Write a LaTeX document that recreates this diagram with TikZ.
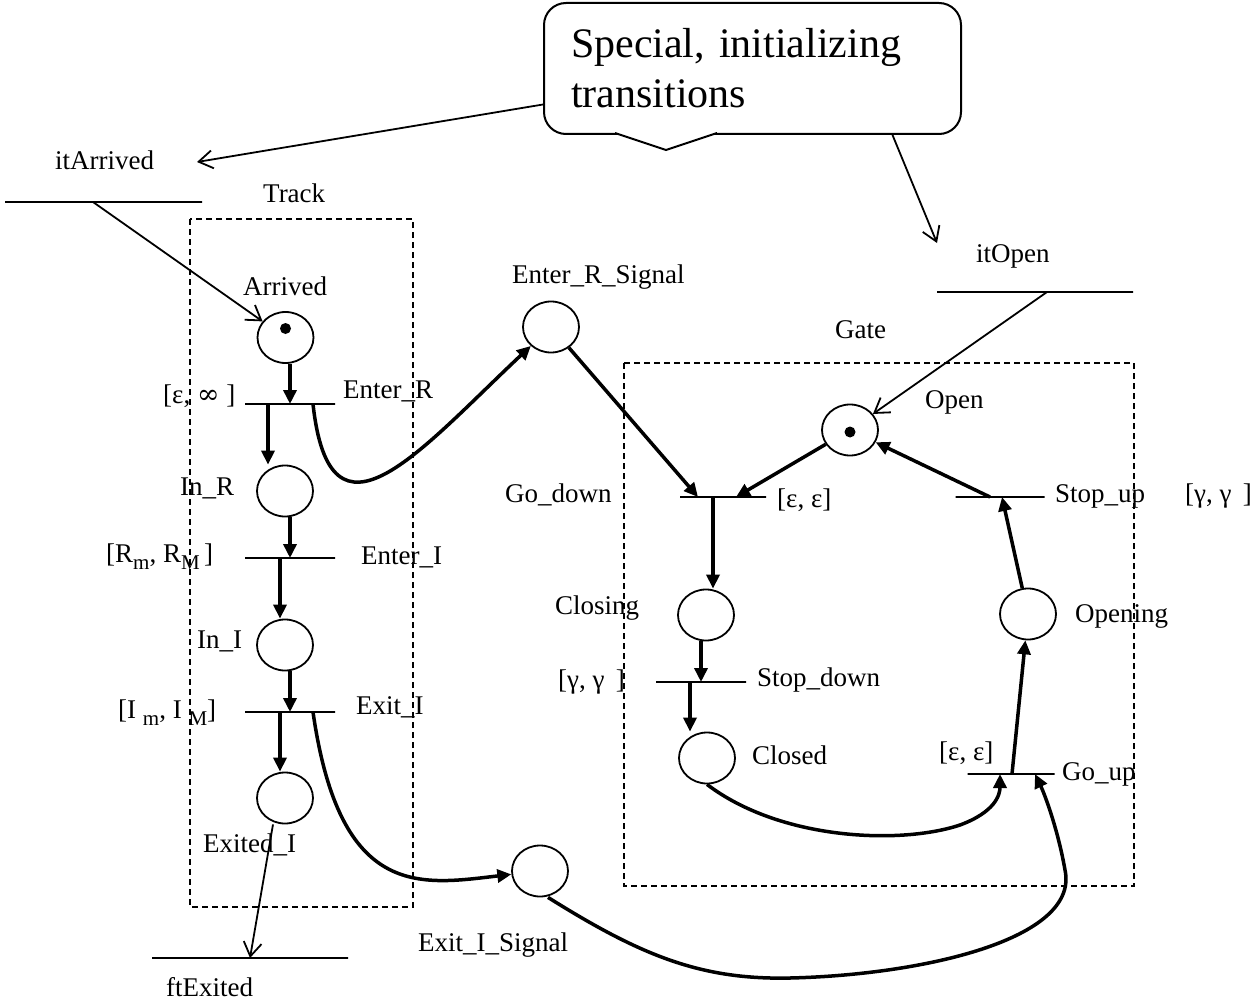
\documentclass[tikz,border=0pt]{standalone}
\usepackage{fontspec}
\setmainfont{Liberation Serif}
\newfontfamily\symfont{DejaVu Serif}
\usetikzlibrary{arrows.meta,shapes.geometric,positioning}
\newcommand\lowsub[1]{\raisebox{-7pt}{\fontsize{21}{21}\selectfont #1}}

\begin{document}
\begin{tikzpicture}[x=1pt,y=-1pt,
  every node/.style={font=\fontsize{27}{32}\selectfont,inner sep=0pt},
  lbl/.style={anchor=base west},
  place/.style={draw,ellipse,line width=1.8pt,minimum width=56pt,minimum height=51pt},
  trans/.style={draw,line width=2pt,minimum width=#1,minimum height=0pt},
  trans/.default=90pt,
  flow/.style={line width=3.5pt,-{Triangle[length=14pt,width=13pt]}},
  init/.style={line width=1.8pt,-{Straight Barb[length=14pt,width=18pt]}},
  boxline/.style={line width=2.8pt,dash pattern=on 6pt off 4pt}]
\useasboundingbox (0,0) rectangle (1260,1003);
\draw[boxline] (190,219) rectangle (413,907);
\draw[boxline] (624,363) rectangle (1134,886);
\node[draw,line width=2pt,rounded corners=22pt,anchor=north west,minimum height=131pt,
  text width=363pt,inner xsep=27pt,align=left,font=\fontsize{42}{50}\selectfont]
  (note) at (543,2) {Special, initializing\\transitions};
\draw[white,line width=4pt] (617,133) -- (715,133);
\draw[line width=2pt] (615,133) -- (666,150) -- (717,133);
\node[place] (arrived) at (285.5,337.5) {};
\node[place] (inR) at (285,491) {};
\node[place] (inI) at (285,645) {};
\node[place] (exitedI) at (285,798) {};
\node[place] (enterRsig) at (551,327) {};
\node[place] (exitIsig) at (540,871) {};
\node[place] (open) at (850,430) {};
\node[place] (closing) at (706,615) {};
\node[place] (closed) at (707,758) {};
\node[place] (opening) at (1028,614) {};
\fill ([yshift=9pt]arrived.center) circle (5.5pt);
\fill ([yshift=-2pt]open.center) circle (5.5pt);
\node[trans] (enterR) at (290,404) {};
\node[trans] (enterI) at (290,558) {};
\node[trans] (exitI) at (290,712) {};
\node[trans=86pt] (godown) at (723,497) {};
\node[trans] (stopdown) at (701,682) {};
\node[trans=87pt] (goup) at (1011,774) {};
\node[trans=89pt] (stopup) at (1000,497) {};
\node[trans=197pt,line width=2.4pt] (itarr) at (103.5,202) {};
\node[trans=196pt,line width=2.4pt] (itopen) at (1035,292) {};
\node[trans=196pt,line width=2.4pt] (ftexit) at (250,958) {};
\node[lbl] (itarrlbl) at (55,170) {itArrived};
\node[lbl] (tracklbl) at (263,203) {Track};
\node[lbl] (arrivedlbl) at (243,295) {Arrived};
\node[lbl] (enterRtime) at (163,403) {[ε, {\symfont ∞} ]};
\node[lbl] (enterRlbl) at (343,398) {Enter\_R};
\node[lbl] (inRlbl) at (180,495) {In\_R};
\node[lbl] (enterItime) at (106,562) {[R\lowsub{m}, R\lowsub{M}\,]};
\node[lbl] (enterIlbl) at (361,564) {Enter\_I};
\node[lbl] (inIlbl) at (197,648) {In\_I};
\node[lbl] (exitItime) at (118,718) {[I \lowsub{m}, I \lowsub{M}]};
\node[lbl] (exitIlbl) at (356,714) {Exit\_I};
\node[lbl] (exitedlbl) at (203,852) {Exited\_I};
\node[lbl] (ftexitlbl) at (166,996) {ftExited};
\node[lbl] (enterRsiglbl) at (512,283) {Enter\_R\_Signal};
\node[lbl] (exitIsiglbl) at (418,951) {Exit\_I\_Signal};
\node[lbl] (itopenlbl) at (976,262) {itOpen};
\node[lbl] (gatelbl) at (835,338) {Gate};
\node[lbl] (openlbl) at (925,408) {Open};
\node[lbl] (godownlbl) at (505,502) {Go\_down};
\node[lbl] (godowntime) at (777,507) {[ε, ε]};
\node[lbl] (stopuplbl) at (1055,502) {Stop\_up};
\node[lbl] (stopuptime) at (1185,502) {[γ, γ \,]};
\node[lbl] (closinglbl) at (555,614) {Closing};
\node[lbl] (openinglbl) at (1075,622) {Opening};
\node[lbl] (stopdowntime) at (558,688) {[γ, γ \,]};
\node[lbl] (stopdownlbl) at (757,686) {Stop\_down};
\node[lbl] (closedlbl) at (752,764) {Closed};
\node[lbl] (gouptime) at (939,760) {[ε, ε]};
\node[lbl] (gouplbl) at (1062,780) {Go\_up};
\coordinate (tipA) at (197,162);
\coordinate (tipB) at (937,243);
\draw[init] ([yshift=-36pt]note.west) -- (tipA);
\draw[init] ([xshift=140pt]note.south) -- (tipB);
\draw[init] ([xshift=-10.5pt]itarr.center) -- (arrived);
\draw[init] ([xshift=12pt]itopen.center) -- (open);
\draw[init] ([xshift=-12pt]exitedI.south) -- (ftexit.center);
\draw[flow] (arrived.south -| enterR.center) -- (enterR.center);
\draw[flow] ([xshift=-22pt]enterR.center) -- ([xshift=-22pt]enterR.center |- inR.north);
\draw[flow] (inR.south -| enterI.center) -- (enterI.center);
\draw[flow] ([xshift=-10pt]enterI.center) -- ([xshift=-10pt]enterI.center |- inI.north);
\draw[flow] (inI.south -| exitI.center) -- (exitI.center);
\draw[flow] ([xshift=-10pt]exitI.center) -- ([xshift=-10pt]exitI.center |- exitedI.north);
\draw[flow] ([xshift=23pt]enterR.center) .. controls (330,560) and (420,450) .. (enterRsig);
\draw[flow] ([xshift=23pt]exitI.center) .. controls (340,900) and (420,885) .. (exitIsig);
\draw[flow] (enterRsig) -- ([xshift=-25pt]godown.center);
\draw[flow] (open) -- ([xshift=13pt]godown.center);
\draw[flow] ([xshift=-10pt]godown.center) -- ([xshift=-10pt]godown.center |- closing.north);
\draw[flow] (closing.south -| stopdown.center) -- (stopdown.center);
\draw[flow] ([xshift=-11pt]stopdown.center) -- ([xshift=-11pt]stopdown.center |- closed.north);
\draw[flow] (closed.south) .. controls (780,840) and (900,845) .. (960,825)
  .. controls (995,812) and (1000,795) .. ([xshift=-11pt]goup.center);
\draw[flow] ([xshift=8pt]exitIsig.south) .. controls (640,955) and (700,980) .. (790,978)
  .. controls (920,975) and (1080,940) .. (1065,870)
  .. controls (1058,830) and (1045,795) .. ([xshift=24pt]goup.center);
\draw[flow] ([xshift=1pt]goup.center) -- (opening);
\draw[flow] (opening) -- ([xshift=2pt]stopup.center);
\draw[flow] ([xshift=-10pt]stopup.center) -- (open);
\end{tikzpicture}
\end{document}
